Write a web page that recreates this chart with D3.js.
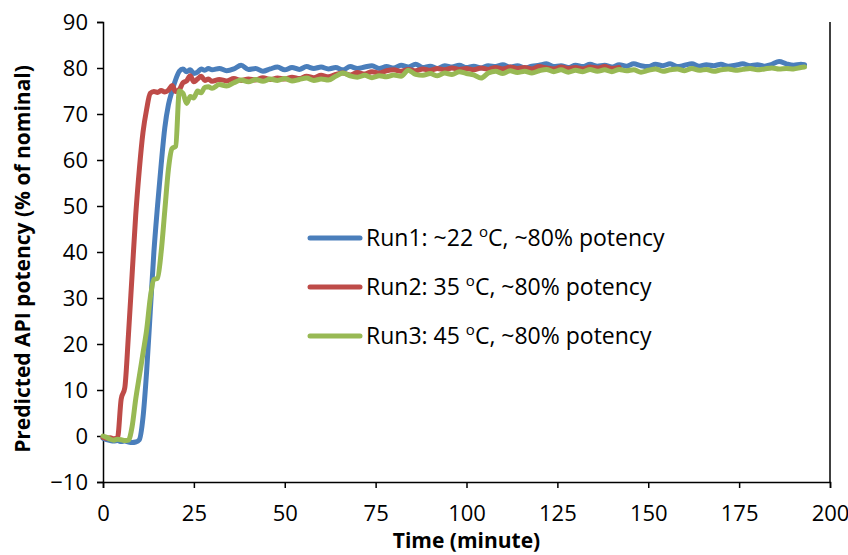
<!DOCTYPE html>
<html>
<head>
<meta charset="utf-8">
<script src="https://cdn.jsdelivr.net/npm/d3@7"></script>
<style>
  body { margin: 0; background: #fff; }
  text { font-family: "Open Sans", "Noto Sans", sans-serif; fill: #000; }
</style>
</head>
<body>
<script>
// Run1: ~22 oC (blue)
var run1 = [[0,-0.5],[1,-0.8],[2,-1.0],[3,-1.1],[4,-1.0],[5,-1.2],[6,-1.1],[7,-1.3],[8,-1.4],[9,-1.3],
  [10,-0.8],[11,4],[12,14],[13,27],[14,40],[15,50],[16,59],[17,67],[18,72],[19,75],[20,77.5],
  [21,79.3],[22,79.8],[23,79.2],[24,79.6],[25,78.8],[26,79.1],[27,79.8],[28,79.5],[29,79.9],[30,79.6],
  [32,79.9],[34,79.4],[36,79.8],[38,80.6],[40,79.7],[42,79.9],[44,79.3],[46,79.8],[48,80.2],[50,79.6],
  [52,80.1],[54,79.7],[56,80.3],[58,79.9],[60,80.2],[62,79.8],[64,80.1],[66,79.6],[68,80.3],[70,79.9],
  [72,80.2],[74,80.5],[76,79.9],[78,80.3],[80,80.0],[82,80.6],[84,80.2],[86,80.8],[88,80.1],[90,80.4],
  [92,79.9],[94,80.5],[96,80.2],[98,80.6],[100,80.1],[102,80.4],[104,80.0],[106,80.5],[108,80.3],[110,80.7],
  [112,80.2],[114,80.5],[116,80.0],[118,80.4],[120,80.6],[122,80.9],[124,80.3],[126,80.5],[128,80.1],[130,80.6],
  [132,80.3],[134,80.8],[136,80.4],[138,80.6],[140,80.2],[142,80.7],[144,80.4],[146,80.9],[148,80.5],[150,80.3],
  [152,80.8],[154,80.5],[156,80.9],[158,80.3],[160,80.6],[162,80.9],[164,80.4],[166,80.7],[168,80.5],[170,80.8],
  [172,80.4],[174,80.6],[176,80.9],[178,80.5],[180,80.7],[182,80.4],[184,80.8],[186,81.4],[188,80.9],[190,80.6],
  [192,80.8],[193,80.7]];

// Run2: 35 oC (red)
var run2 = [[0,-0.3],[1,-0.5],[2,-0.4],[3,-0.6],[4,-0.4],[5,8],[6,10.5],[7,22],[8,35],[9,48],
  [10,58],[11,66],[12,71],[13,74.5],[14,74.9],[15,74.7],[16,75.1],[17,74.8],[18,75.2],[19,76.2],[20,74.9],
  [21,75.3],[22,76.8],[23,77.2],[24,78.3],[25,77.0],[26,77.6],[27,78.2],[28,77.3],[29,77.6],[30,77.1],
  [32,77.5],[34,77.2],[36,77.7],[38,77.3],[40,77.6],[42,77.4],[44,77.9],[46,77.5],[48,77.8],[50,77.6],
  [52,78.0],[54,77.7],[56,78.2],[58,77.9],[60,78.4],[62,78.1],[64,78.6],[66,78.9],[68,78.5],[70,79.0],
  [72,78.7],[74,79.2],[76,78.9],[78,79.4],[80,79.6],[82,79.3],[84,79.7],[86,79.4],[88,79.8],[90,79.5],
  [92,79.9],[94,79.6],[96,80.0],[98,79.7],[100,79.9],[102,79.6],[104,80.0],[106,79.7],[108,80.1],[110,79.8],
  [112,80.2],[114,79.9],[116,80.1],[118,79.8],[120,80.3],[122,80.0],[124,79.8],[126,80.2],[128,79.9],[130,80.1],
  [132,79.8],[134,80.2],[136,80.0],[138,80.3],[140,79.9],[142,80.1]];

// Run3: 45 oC (green)
var run3 = [[0,0],[1,-0.3],[2,-0.7],[3,-0.9],[4,-0.7],[5,-0.8],[6,-1.0],[7,-0.9],[8,2],[9,8],
  [10,13],[11,18],[12,23],[13,30],[14,34],[15,34.3],[16,40],[17,49],[18,58],[19,62.5],[20,63],
  [21,75],[22,74.5],[23,72.3],[24,73.8],[25,73.5],[26,75.0],[27,74.6],[28,75.8],[29,75.9],[30,75.6],
  [32,76.4],[34,76.1],[36,76.8],[38,77.4],[40,77.0],[42,77.5],[44,77.1],[46,77.6],[48,77.3],[50,77.7],
  [52,77.2],[54,77.5],[56,77.8],[58,77.3],[60,77.6],[62,77.4],[64,78.2],[66,78.9],[68,78.3],[70,78.0],
  [72,78.4],[74,77.9],[76,78.3],[78,78.1],[80,78.5],[82,78.2],[84,79.5],[86,78.6],[88,78.4],[90,78.8],
  [92,78.3],[94,78.9],[96,78.6],[98,79.2],[100,78.8],[102,78.5],[104,77.8],[106,78.9],[108,79.3],[110,78.8],
  [112,79.4],[114,79.0],[116,79.3],[118,78.9],[120,79.4],[122,79.7],[124,79.2],[126,79.6],[128,79.1],[130,79.5],
  [132,79.2],[134,79.7],[136,79.3],[138,79.6],[140,79.2],[142,79.7],[144,79.4],[146,79.6],[148,79.1],[150,79.5],
  [152,79.8],[154,79.3],[156,79.6],[158,79.8],[160,79.4],[162,79.9],[164,79.5],[166,79.7],[168,79.3],[170,79.6],
  [172,79.8],[174,79.5],[176,79.7],[178,79.9],[180,79.6],[182,79.8],[184,80.0],[186,79.8],[188,79.9],[190,79.8],
  [192,80.1],[193,80.2]];

var seriesNames = ["Run1: ~22 ", "Run2: 35 ", "Run3: 45 "];
var seriesTail = "C, ~80% potency";
var seriesColors = ["#4a7ebb", "#be4b48", "#98b954"];
var xTicks = [0, 25, 50, 75, 100, 125, 150, 175, 200];
var yTicks = [-10, 0, 10, 20, 30, 40, 50, 60, 70, 80, 90];

var width = 848, height = 555;
var margin = {top: 22, right: 18, bottom: 73, left: 103};

var svg = d3.select("body").append("svg")
    .attr("width", width)
    .attr("height", height);

var x = d3.scaleLinear().domain([0, 200]).range([margin.left, width - margin.right]);
var y = d3.scaleLinear().domain([-10, 90]).range([height - margin.bottom, margin.top]);

// y axis
var yAxis = svg.append("g")
    .attr("transform", "translate(" + x(0) + ",0)")
    .call(d3.axisLeft(y).tickValues(yTicks).tickSize(6).tickPadding(9).tickFormat(d3.format("d")));
yAxis.selectAll("text").style("font-size", "22px");

// x axis
var xAxis = svg.append("g")
    .attr("transform", "translate(0," + y(-10) + ")")
    .call(d3.axisBottom(x).tickValues(xTicks).tickSize(6).tickPadding(17).tickFormat(d3.format("d")));
xAxis.selectAll("text").style("font-size", "22px");

svg.selectAll(".domain").attr("stroke", "#000").attr("stroke-width", 1.5);
svg.selectAll(".tick line").attr("stroke", "#000").attr("stroke-width", 1.5);

// right border of the plot
svg.append("line")
    .attr("x1", x(200)).attr("x2", x(200))
    .attr("y1", y(90)).attr("y2", y(-10))
    .attr("stroke", "#000").attr("stroke-width", 1.5);

var line = d3.line()
    .x(d => x(d[0]))
    .y(d => y(d[1]))
    .curve(d3.curveMonotoneX);

[run1, run2, run3].forEach(function(run, i) {
    svg.append("path")
        .datum(run)
        .attr("fill", "none")
        .attr("stroke", seriesColors[i])
        .attr("stroke-width", 5)
        .attr("stroke-linejoin", "round")
        .attr("stroke-linecap", "round")
        .attr("d", line);
});

// legend
var legend = svg.append("g").attr("transform", "translate(308,238)");
seriesNames.forEach(function(name, i) {
    var row = legend.append("g").attr("transform", "translate(0," + (i * 49) + ")");
    row.append("line")
        .attr("x1", 2).attr("x2", 52)
        .attr("stroke", seriesColors[i])
        .attr("stroke-width", 5)
        .attr("stroke-linecap", "round");
    var t = row.append("text")
        .attr("x", 58).attr("y", 8)
        .style("font-size", "23px");
    t.append("tspan").text(name);
    t.append("tspan").attr("dy", -9).style("font-size", "15px").text("o");
    t.append("tspan").attr("dy", 9).text(seriesTail);
});

// axis titles
svg.append("text")
    .attr("x", x(100))
    .attr("y", 548)
    .attr("text-anchor", "middle")
    .style("font-size", "21px")
    .style("font-weight", "bold")
    .text("Time (minute)");

svg.append("text")
    .attr("transform", "translate(30,259) rotate(-90)")
    .attr("text-anchor", "middle")
    .style("font-size", "21px")
    .style("font-weight", "bold")
    .text("Predicted API potency (% of nominal)");
</script>
</body>
</html>
